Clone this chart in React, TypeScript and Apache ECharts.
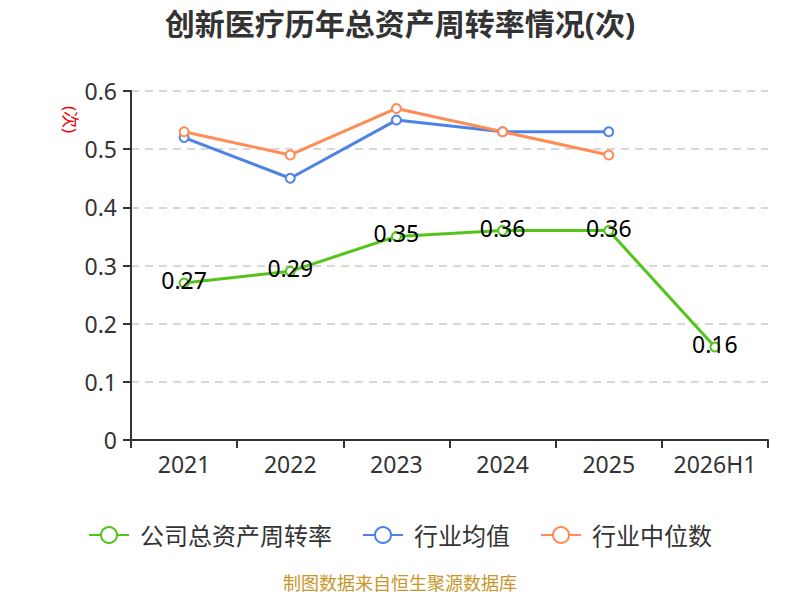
import React, { useEffect, useRef } from "react";
import * as echarts from "echarts";

const categories = ["2021", "2022", "2023", "2024", "2025", "2026H1"];
const companyValues = [0.27, 0.29, 0.35, 0.36, 0.36, 0.16];
const industryAvg = [0.52, 0.45, 0.55, 0.53, 0.53, null];
const industryMedian = [0.53, 0.49, 0.57, 0.53, 0.49, null];
const yTicks = [0, 0.1, 0.2, 0.3, 0.4, 0.5, 0.6];

export default function App() {
  const ref = useRef<HTMLDivElement>(null);
  useEffect(() => {
    if (!ref.current) return;
    const chart = echarts.init(ref.current, undefined, { renderer: "svg" });
    const font = "'Noto Sans', 'Noto Sans CJK SC', sans-serif";
    chart.setOption({
      animation: false,
      textStyle: { fontFamily: font },
      title: {
        text: "创新医疗历年总资产周转率情况(次)",
        left: "center",
        top: 3,
        textStyle: { fontSize: 30, fontWeight: "bold", color: "#333", fontFamily: font },
      },
      grid: { left: 131, right: 32, top: 91, bottom: 160 },
      legend: {
        bottom: 48,
        left: "center",
        itemWidth: 40,
        itemHeight: 20,
        itemGap: 30,
        textStyle: { fontSize: 24, color: "#333", fontFamily: font, padding: [0, 0, 0, 6] },
        data: ["公司总资产周转率", "行业均值", "行业中位数"],
      },
      xAxis: {
        type: "category",
        data: categories,
        boundaryGap: true,
        axisLine: { lineStyle: { color: "#333", width: 2 } },
        axisTick: { show: true, interval: 0, length: 8, lineStyle: { color: "#333", width: 2 } },
        axisLabel: { interval: 0, fontSize: 23, color: "#333", margin: 12 },
      },
      yAxis: {
        type: "value",
        min: 0,
        max: 0.6,
        interval: 0.1,
        axisLine: { show: true, lineStyle: { color: "#333", width: 2 } },
        axisTick: { show: true, length: 8, lineStyle: { color: "#333", width: 2 } },
        axisLabel: {
          fontSize: 23,
          color: "#333",
          margin: 14,
          formatter: (v: number) => {
            const t = yTicks.find((x) => Math.abs(x - v) < 1e-9);
            return t === 0 ? "0" : String(Math.round(v * 10) / 10);
          },
        },
        splitLine: { show: true, lineStyle: { color: "#ccc", type: [8, 6], width: 1.5 } },
      },
      graphic: [
        {
          type: "text",
          x: 79,
          y: 106,
          rotation: -Math.PI / 2,
          style: { text: "(次)", fill: "#e00", fontSize: 17, fontFamily: font },
        },
        {
          type: "text",
          left: "center",
          top: 574,
          style: { text: "制图数据来自恒生聚源数据库", fill: "#c9962a", fontSize: 18, fontFamily: font },
        },
      ],
      series: [
        {
          name: "公司总资产周转率",
          type: "line",
          data: companyValues,
          symbol: "emptyCircle",
          symbolSize: 9,
          itemStyle: { color: "#52c41a" },
          lineStyle: { width: 3, color: "#52c41a" },
          label: {
            show: true,
            position: "inside",
            offset: [0, -3],
            fontSize: 23,
            color: "#000",
            formatter: (p: any) => String(p.value),
          },
          z: 3,
        },
        {
          name: "行业均值",
          type: "line",
          data: industryAvg,
          symbol: "emptyCircle",
          symbolSize: 9,
          itemStyle: { color: "#4e82e8" },
          lineStyle: { width: 3, color: "#4e82e8" },
        },
        {
          name: "行业中位数",
          type: "line",
          data: industryMedian,
          symbol: "emptyCircle",
          symbolSize: 9,
          itemStyle: { color: "#ff8c55" },
          lineStyle: { width: 3, color: "#ff8c55" },
        },
      ],
    });
    return () => chart.dispose();
  }, []);
  return <div ref={ref} style={{ width: 800, height: 600, margin: -8 }} />;
}
